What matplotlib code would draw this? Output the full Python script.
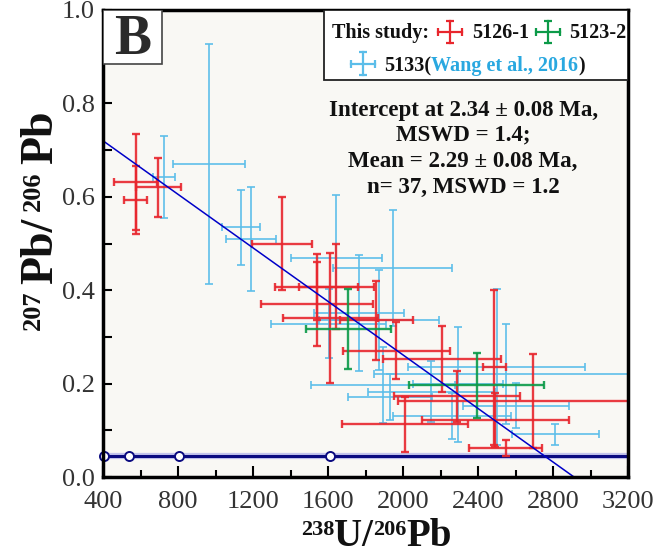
import matplotlib.pyplot as plt
import matplotlib.patches as patches
import numpy as np
from matplotlib.ticker import FormatStrFormatter

plt.rcParams['font.family'] = ['Liberation Serif', 'DejaVu Serif']

# 5126-1 (this study, red)
red_x = [574, 574, 695, 1353, 1540, 1643, 1541, 1611, 1858, 1965, 2206, 2288, 2008, 2691, 2547, 2492, 2487]
red_xerr = [116, 62, 119, 160, 222, 200, 299, 253, 195, 286, 315, 335, 336, 720, 195, 393, 60]
red_y = [0.632, 0.593, 0.620, 0.500, 0.4075, 0.4075, 0.371, 0.341, 0.3355, 0.270, 0.2527, 0.173, 0.1127,
         0.163, 0.062, 0.1226, 0.235]
red_yerr = [0.103, 0.072, 0.063, 0.100, 0.071, 0.091, 0.090, 0.139, 0.084, 0.061, 0.070, 0.055, 0.059,
            0.100, 0.017, 0.058, 0.166]

# 5123-2 (this study, green)
green_x = [1708, 2392]
green_xerr = [226, 362]
green_y = [0.3168, 0.1963]
green_yerr = [0.086, 0.069]

# 5133 (Wang et al., 2016, light blue)
blue_x = [724, 965, 1138, 1188, 1643, 1945, 1765, 1873, 1603, 1895, 2549, 2501, 2150, 2295, 2603, 2260, 2812, 1929]
blue_xerr = [59, 193, 101, 134, 243, 317, 240, 320, 308, 384, 702, 472, 339, 240, 283, 315, 233, 224]
blue_y = [0.643, 0.671, 0.535, 0.510, 0.4695, 0.448, 0.3505, 0.336, 0.328, 0.197, 0.2204, 0.2355, 0.183,
          0.199, 0.153, 0.130, 0.0915, 0.171]
blue_yerr = [0.088, 0.257, 0.080, 0.111, 0.134, 0.124, 0.124, 0.1075, 0.074, 0.082, 0.1075, 0.166, 0.065,
             0.123, 0.049, 0.049, 0.023, 0.05]

# discordia (regression) line and concordia
reg_x = [400, 2912]
reg_y = [0.72, 0.0]
conc_x = [400, 3200]
conc_y = [0.045, 0.045]
conc_tick_x = [403, 537, 806, 1611]
conc_tick_y = [0.045, 0.045, 0.045, 0.045]

stats_lines = ["Intercept at 2.34 \u00b1 0.08 Ma,", "MSWD = 1.4;",
               "Mean = 2.29 \u00b1 0.08 Ma,", "n= 37, MSWD = 1.2"]

RED = '#e8262d'
GREEN = '#0c9a48'
BLUE = '#5bbde9'
NAVY = '#0a0a80'

fig = plt.figure(figsize=(6.72, 5.56), dpi=100)
ax = fig.add_axes([103 / 672, 79 / 556, 525 / 672, 467 / 556])
ax.set_facecolor('#f9f8f4')
ax.set_xlim(400, 3200)
ax.set_ylim(0, 1.0)

# concordia
ax.plot(conc_x, conc_y, color='#c4c4ec', lw=4.5, zorder=1, solid_capstyle='butt')
ax.plot(conc_x, conc_y, color=NAVY, lw=2.2, zorder=1.1, solid_capstyle='butt')
ax.plot(conc_tick_x, conc_tick_y, ls='none', marker='o', ms=6.5, mfc='white', mec=NAVY, mew=1.4,
        zorder=5, clip_on=False)

kw = dict(fmt='none', capsize=3.2, alpha=0.9)
ax.errorbar(blue_x, blue_y, xerr=blue_xerr, yerr=blue_yerr, ecolor=BLUE, elinewidth=1.3, capthick=1.3,
            zorder=2, **kw)
ax.errorbar(red_x, red_y, xerr=red_xerr, yerr=red_yerr, ecolor=RED, elinewidth=1.7, capthick=1.7,
            zorder=3, **kw)
ax.errorbar(green_x, green_y, xerr=green_xerr, yerr=green_yerr, ecolor=GREEN, elinewidth=1.7,
            capthick=1.7, zorder=3.5, **kw)

ax.plot(reg_x, reg_y, color='#0000c8', lw=1.1, zorder=4)

# ticks / spines
ax.set_xticks(np.arange(400, 3201, 400))
ax.set_xticks(np.arange(400, 3201, 200), minor=True)
ax.set_yticks(np.arange(0, 1.01, 0.2))
ax.set_yticks(np.arange(0, 1.01, 0.1), minor=True)
ax.yaxis.set_major_formatter(FormatStrFormatter('%.1f'))
ax.tick_params(which='both', direction='in', width=1.5, labelcolor='#333333', labelsize=19)
ax.tick_params(axis='x', which='major', length=8, pad=10)
ax.tick_params(axis='x', which='minor', length=5)
ax.tick_params(axis='y', which='both', length=6.5, pad=6)
for s in ax.spines.values():
    s.set_linewidth(2.5)
    s.set_zorder(6)

# panel label box
ax.add_patch(patches.Rectangle((0, 0.884), 0.112, 0.116, transform=ax.transAxes, facecolor='white',
                               edgecolor='#444444', lw=1.2, zorder=7))
ax.text(0.056, 0.935, 'B', transform=ax.transAxes, ha='center', va='center', fontsize=40,
        fontweight='bold', color='#2a2a2a', zorder=8)

# legend box
ax.add_patch(patches.Rectangle((0.421, 0.850), 0.579, 0.150, transform=ax.transAxes, facecolor='white',
                               edgecolor='#222222', lw=1.3, zorder=7))


def legend_cross(cx, cy, color):
    w, h = 0.023, 0.024
    lk = dict(color=color, lw=1.6, transform=ax.transAxes, clip_on=False, zorder=8)
    ax.plot([cx - w, cx + w], [cy, cy], **lk)
    ax.plot([cx, cx], [cy - h, cy + h], **lk)
    ax.plot([cx - w, cx + w], [cy, cy], ls='none', marker='|', ms=6, mew=1.6, **lk)
    ax.plot([cx, cx], [cy - h, cy + h], ls='none', marker='_', ms=6, mew=1.6, **lk)


lt = dict(fontsize=14.5, fontweight='bold', zorder=8)
ax.text(0.436, 0.940, 'This study:', transform=ax.transAxes, ha='left', va='baseline', color='#111111', **lt)
legend_cross(0.661, 0.953, RED)
ax.text(0.704, 0.940, '5126-1', transform=ax.transAxes, ha='left', va='baseline', color='#111111', **lt)
legend_cross(0.848, 0.953, GREEN)
ax.text(0.887, 0.940, '5123-2', transform=ax.transAxes, ha='left', va='baseline', color='#111111', **lt)
legend_cross(0.495, 0.885, BLUE)
t1 = ax.text(0.535, 0.869, '5133(', transform=ax.transAxes, ha='left', va='baseline', color='#111111', **lt)
t2 = ax.annotate('Wang et al., 2016', xy=(1, 0.869), xycoords=(t1, 'axes fraction'), ha='left',
                 va='baseline', color='#29a8e0', **lt)
ax.annotate(')', xy=(1, 0.869), xycoords=(t2, 'axes fraction'), ha='left', va='baseline',
            color='#111111', **lt)

# statistics text
for line, yb in zip(stats_lines, [0.773, 0.720, 0.664, 0.609]):
    ax.text(0.686, yb, line, transform=ax.transAxes, ha='center', va='baseline', fontsize=16.5,
            fontweight='bold', color='#111111', zorder=8)

# x axis title built from pieces (small superscripts)
xbig = dict(fontsize=28, fontweight='bold', color='#111111', ha='left', va='baseline')
xsup = dict(fontsize=16, fontweight='bold', color='#111111', ha='left', va='baseline')
bx, rise = 0.018, 0.019
p = fig.text(0.448, bx + rise, '238', **xsup)
for txt, is_sup in [('U/', False), ('206', True), ('Pb', False)]:
    p = ax.annotate(txt, xy=(1, bx + rise if is_sup else bx), xycoords=(p, 'figure fraction'),
                    annotation_clip=False, **(xsup if is_sup else xbig))

# y axis title, rotated
ybig = dict(fontsize=33, fontweight='bold', color='#111111', ha='left', va='baseline',
            rotation=90, rotation_mode='anchor')
ysup = dict(fontsize=19, fontweight='bold', color='#111111', ha='left', va='baseline',
            rotation=90, rotation_mode='anchor')
by, rx = 0.078, 0.019
p = fig.text(by - rx, 0.406, '207', **ysup)
for txt, is_sup in [('Pb/', False), ('206', True), ('Pb', False)]:
    p = ax.annotate(txt, xy=(by - rx if is_sup else by, 1), xycoords=('figure fraction', p),
                    xytext=(0, 5), textcoords='offset points',
                    annotation_clip=False, **(ysup if is_sup else ybig))

fig.savefig('out.png', dpi=100, facecolor='white')
